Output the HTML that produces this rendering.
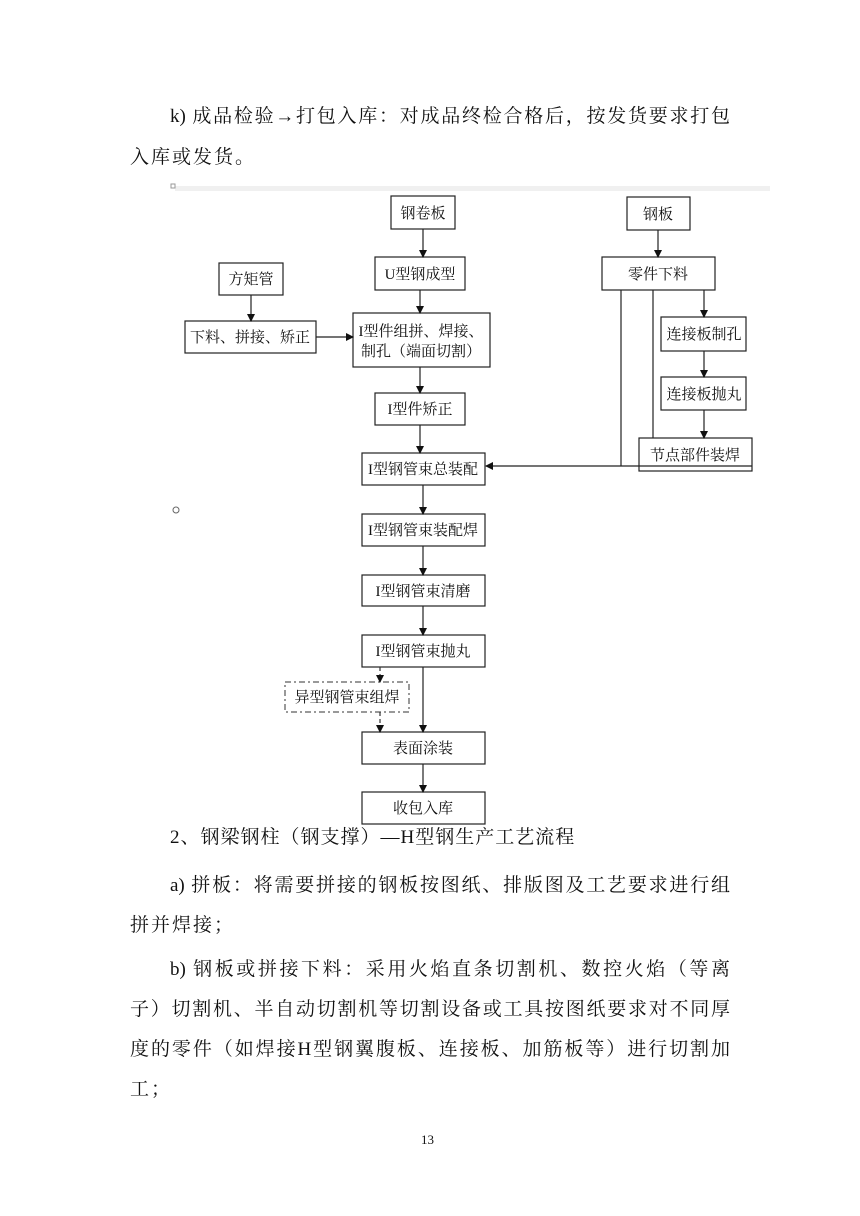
<!DOCTYPE html>
<html><head><meta charset="utf-8"><style>
body{margin:0;background:#fff;}
.pg{position:relative;width:860px;height:1216px;overflow:hidden;font-family:"Liberation Serif","Noto Serif CJK SC",serif;color:#111;}
.t{position:absolute;font-size:19px;line-height:24px;white-space:nowrap;}
.j{text-align:justify;text-align-last:justify;white-space:normal;}
svg text{font-family:"Liberation Serif","Noto Serif CJK SC",serif;font-size:15px;fill:#111;}
</style></head><body><div class="pg">
<div class="t j" style="left:170px;top:105px;width:560px">k) 成品检验→打包入库：对成品终检合格后，按发货要求打包</div>
<div class="t" style="left:130px;top:146px;letter-spacing:2px">入库或发货。</div>

<svg style="position:absolute;left:0;top:0" width="860" height="1216">
<defs><marker id="a" markerWidth="8" markerHeight="8" refX="7" refY="4" orient="auto" markerUnits="userSpaceOnUse"><path d="M0,0 L8,4 L0,8 z" fill="#111"/></marker></defs>
<rect x="175" y="186" width="595" height="5" fill="#f0f0f0"/>
<rect x="171" y="184" width="4" height="4" fill="none" stroke="#999" stroke-width="1"/>
<circle cx="176" cy="510" r="3" fill="none" stroke="#666"/>
<g fill="#fff" stroke="#222" stroke-width="1.2">
<rect x="391" y="196" width="64" height="33"/>
<rect x="627" y="197" width="63" height="33"/>
<rect x="375" y="257" width="90" height="33"/>
<rect x="602" y="257" width="113" height="33"/>
<rect x="219" y="263" width="64" height="32"/>
<rect x="185" y="321" width="131" height="32"/>
<rect x="353" y="313" width="137" height="54"/>
<rect x="661" y="317" width="85" height="34"/>
<rect x="661" y="377" width="85" height="33"/>
<rect x="375" y="393" width="90" height="32"/>
<rect x="639" y="438" width="113" height="33"/>
<rect x="362" y="453" width="123" height="32"/>
<rect x="362" y="514" width="123" height="32"/>
<rect x="362" y="575" width="123" height="31"/>
<rect x="362" y="635" width="123" height="32"/>
<rect x="362" y="732" width="123" height="32"/>
<rect x="362" y="792" width="123" height="32"/>
</g>
<rect x="285" y="682" width="124" height="30" fill="none" stroke="#333" stroke-dasharray="6,3,2,3"/>
<g stroke="#222" stroke-width="1.2" fill="none" marker-end="url(#a)">
<line x1="423" y1="229" x2="423" y2="257"/>
<line x1="658" y1="230" x2="658" y2="257"/>
<line x1="420" y1="290" x2="420" y2="313"/>
<line x1="251" y1="295" x2="251" y2="321"/>
<line x1="316" y1="337" x2="353" y2="337"/>
<line x1="420" y1="367" x2="420" y2="393"/>
<line x1="420" y1="425" x2="420" y2="453"/>
<line x1="704" y1="290" x2="704" y2="317"/>
<line x1="704" y1="351" x2="704" y2="377"/>
<line x1="704" y1="410" x2="704" y2="438"/>
<line x1="752" y1="466" x2="486" y2="466"/>
<line x1="423" y1="485" x2="423" y2="514"/>
<line x1="423" y1="546" x2="423" y2="575"/>
<line x1="423" y1="606" x2="423" y2="635"/>
<line x1="423" y1="667" x2="423" y2="732"/>
<line x1="423" y1="764" x2="423" y2="792"/>
</g>
<g stroke="#222" stroke-width="1.2" fill="none">
<line x1="621" y1="290" x2="621" y2="466"/>
<line x1="653" y1="290" x2="653" y2="438"/>
</g>
<g stroke="#333" stroke-width="1.2" fill="none" stroke-dasharray="4,3" marker-end="url(#a)">
<line x1="380" y1="667" x2="380" y2="682"/>
<line x1="380" y1="712" x2="380" y2="732"/>
</g>
<g text-anchor="middle">
<text x="423" y="218">钢卷板</text>
<text x="658" y="219">钢板</text>
<text x="420" y="279">U型钢成型</text>
<text x="658" y="279">零件下料</text>
<text x="251" y="284">方矩管</text>
<text x="250" y="342">下料、拼接、矫正</text>
<text x="421" y="336">I型件组拼、焊接、</text>
<text x="421" y="356">制孔（端面切割）</text>
<text x="704" y="339">连接板制孔</text>
<text x="704" y="399">连接板抛丸</text>
<text x="420" y="414">I型件矫正</text>
<text x="695" y="460">节点部件装焊</text>
<text x="423" y="474">I型钢管束总装配</text>
<text x="423" y="535">I型钢管束装配焊</text>
<text x="423" y="596">I型钢管束清磨</text>
<text x="423" y="656">I型钢管束抛丸</text>
<text x="347" y="702">异型钢管束组焊</text>
<text x="423" y="753">表面涂装</text>
<text x="423" y="813">收包入库</text>
</g>
</svg>

<div class="t" style="left:170px;top:826px;letter-spacing:1px">2、钢梁钢柱（钢支撑）—H型钢生产工艺流程</div>
<div class="t j" style="left:170px;top:874px;width:560px">a) 拼板：将需要拼接的钢板按图纸、排版图及工艺要求进行组</div>
<div class="t" style="left:130px;top:914px;letter-spacing:2px">拼并焊接；</div>
<div class="t j" style="left:170px;top:958px;width:560px">b) 钢板或拼接下料：采用火焰直条切割机、数控火焰（等离</div>
<div class="t j" style="left:130px;top:998px;width:600px">子）切割机、半自动切割机等切割设备或工具按图纸要求对不同厚</div>
<div class="t j" style="left:130px;top:1038px;width:600px">度的零件（如焊接H型钢翼腹板、连接板、加筋板等）进行切割加</div>
<div class="t" style="left:130px;top:1078px;letter-spacing:2px">工；</div>
<div class="t" style="left:421px;top:1128px;font-size:13px">13</div>
</div></body></html>
